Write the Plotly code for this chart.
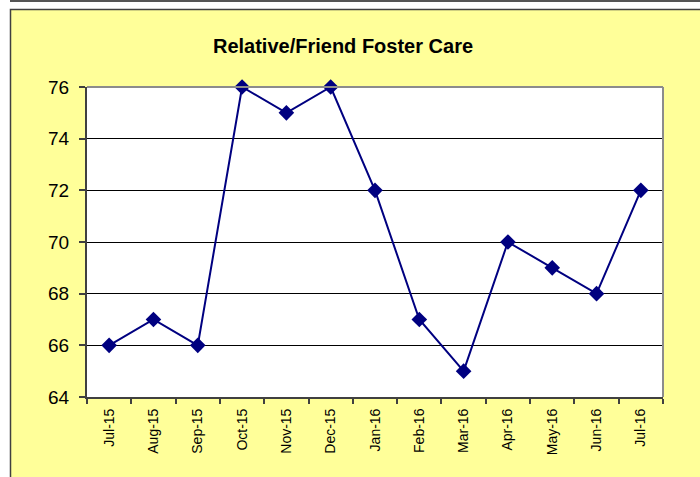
import plotly.graph_objects as go

months = ["Jul-15", "Aug-15", "Sep-15", "Oct-15", "Nov-15", "Dec-15", "Jan-16",
          "Feb-16", "Mar-16", "Apr-16", "May-16", "Jun-16", "Jul-16"]
values = [66, 67, 66, 76, 75, 76, 72, 67, 65, 70, 69, 68, 72]
y_ticks = [64, 66, 68, 70, 72, 74, 76]

W, H = 700, 477
L, R, T, B = 87, 663, 87, 397

def fx(px):
    return (px - L) / (R - L)

def fy(py):
    return (B - py) / (B - T)

fig = go.Figure()
fig.add_trace(go.Scatter(
    x=months, y=values, mode="lines+markers",
    line=dict(color="#000080", width=2),
    marker=dict(symbol="diamond", size=12, color="#000080"),
    cliponaxis=False,
))

shapes = [
    dict(type="rect", xref="paper", yref="paper", layer="below",
         x0=fx(10.5), x1=fx(720), y0=fy(9.5), y1=fy(500),
         fillcolor="#FFFF99", line=dict(color="#404040", width=1.5)),
    dict(type="line", xref="paper", yref="paper", layer="below",
         x0=fx(10), x1=fx(720), y0=fy(1), y1=fy(1),
         line=dict(color="#555555", width=2)),
    dict(type="rect", xref="paper", yref="paper", layer="below",
         x0=0, x1=1, y0=0, y1=1, fillcolor="white", line=dict(width=0)),
    dict(type="line", xref="paper", yref="paper", x0=0, x1=1, y0=1, y1=1,
         line=dict(color="#8c8c8c", width=2)),
    dict(type="line", xref="paper", yref="paper", x0=1, x1=1, y0=0, y1=1,
         line=dict(color="#8c8c8c", width=2)),
]

fig.update_layout(
    width=W, height=H,
    margin=dict(l=L, r=W - R, t=T, b=H - B, pad=0),
    paper_bgcolor="white",
    plot_bgcolor="rgba(0,0,0,0)",
    showlegend=False,
    shapes=shapes,
    title=dict(text="<b>Relative/Friend Foster Care</b>",
               font=dict(family="Liberation Sans, Arial", size=20, color="black"),
               x=343 / W, xanchor="center", y=1 - 46 / H, yanchor="middle"),
    font=dict(family="Liberation Sans, Arial", color="black"),
)

fig.update_xaxes(
    type="category", range=[-0.5, 12.5],
    showline=True, linecolor="#404040", linewidth=2,
    ticks="outside", tickson="boundaries", ticklen=5, tickcolor="#404040", tickwidth=1.5,
    tickangle=-90, tickfont=dict(size=14, family="Liberation Sans, Arial"),
    ticklabelstandoff=4,
    showgrid=False, zeroline=False,
)
fig.update_yaxes(
    range=[64, 76], tickvals=y_ticks,
    showline=True, linecolor="#404040", linewidth=2,
    ticks="outside", ticklen=6, tickcolor="#404040", tickwidth=1.5,
    tickfont=dict(size=19, family="Liberation Sans, Arial"),
    ticklabelstandoff=6,
    showgrid=True, gridcolor="black", gridwidth=1, zeroline=False,
)

fig.write_html("out.html", config={"displayModeBar": False},
               post_script="document.body.style.margin='0';")
